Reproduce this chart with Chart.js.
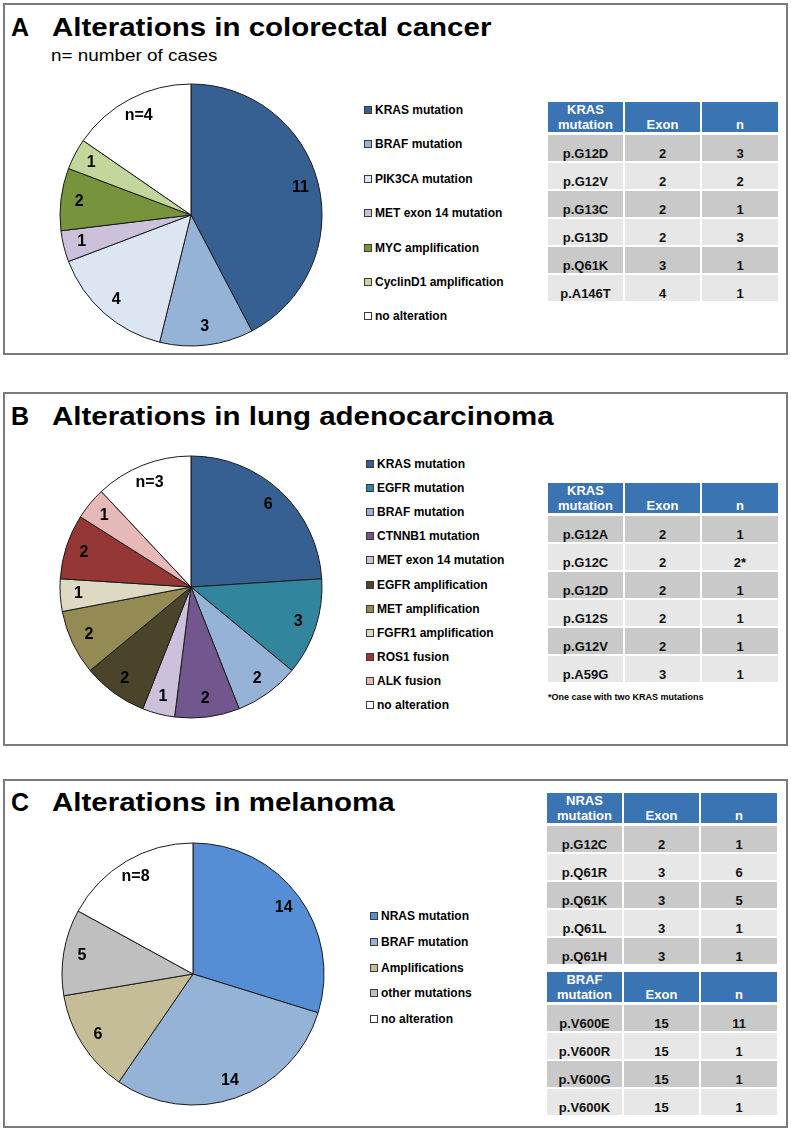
<!DOCTYPE html>
<html>
<head>
<meta charset="utf-8">
<script src="https://cdn.jsdelivr.net/npm/chart.js@4.4.0/dist/chart.umd.min.js"></script>
<style>
  body { margin: 0; background: #fff; font-family: Arial, "Liberation Sans", sans-serif; }
  #page { position: relative; width: 791px; height: 1131px; overflow: hidden; }
  .panel { position: absolute; left: 3px; width: 785px; box-sizing: border-box; border: 2px solid #7b7b7b; }
  .letter, .title { position: absolute; font-weight: bold; font-size: 25px; line-height: 25px; color: #000; white-space: nowrap; }
  .title { transform: scaleX(1.18); transform-origin: left top; }
  .subtitle { position: absolute; font-size: 16px; line-height: 16px; white-space: nowrap; transform: scaleX(1.18); transform-origin: left top; }
  canvas.pie { position: absolute; }
  .legend { position: absolute; }
  .legend .item { position: absolute; left: 0; display: flex; align-items: center; white-space: nowrap; font-weight: bold; font-size: 12px; line-height: 14px; color: #000; }
  .legend .box { width: 6px; height: 6px; border: 1px solid #3a3a3a; margin-right: 3px; }
  table.mut { position: absolute; border-collapse: separate; border-spacing: 0; table-layout: fixed; width: 230px; font-weight: bold; font-size: 13px; }
  table.mut th { background: #3b74b2; color: #fff; height: 29px; padding: 0; vertical-align: bottom; line-height: 15px; text-align: center; border-right: 2px solid #fff; border-bottom: 3px solid #fff; font-weight: bold; }
  table.mut td { height: 26px; padding: 0; vertical-align: bottom; line-height: 15px; text-align: center; color: #111; border-right: 2px solid #fff; border-bottom: 2px solid #fff; }
  table.mut th:last-child, table.mut td:last-child { border-right: none; }
  table.mut tr.dark td { background: #c9c9c9; }
  table.mut tr.light td { background: #e7e7e7; }
  .note { position: absolute; font-weight: bold; font-size: 9px; line-height: 11px; white-space: nowrap; }
</style>
</head>
<body>
<div id="page">
  <div class="panel" style="top:3px;height:352px;"></div>
  <div class="panel" style="top:392px;height:354px;"></div>
  <div class="panel" style="top:779px;height:349px;"></div>

  <div class="letter" style="left:11px;top:15px;">A</div>
  <div class="title" style="left:52px;top:15px;">Alterations in colorectal cancer</div>
  <div class="subtitle" style="left:51px;top:48px;">n= number of cases</div>

  <div class="letter" style="left:11px;top:404px;">B</div>
  <div class="title" style="left:52px;top:404px;">Alterations in lung adenocarcinoma</div>

  <div class="letter" style="left:11px;top:790px;">C</div>
  <div class="title" style="left:52px;top:790px;">Alterations in melanoma</div>

  <canvas id="pieA" class="pie" width="300" height="300" style="left:41px;top:65px;"></canvas>
  <canvas id="pieB" class="pie" width="300" height="300" style="left:41px;top:437px;"></canvas>
  <canvas id="pieC" class="pie" width="300" height="300" style="left:43px;top:824px;"></canvas>

  <div id="legendA" class="legend" style="left:364px;top:103px;"></div>
  <div id="legendB" class="legend" style="left:366px;top:457px;"></div>
  <div id="legendC" class="legend" style="left:370px;top:909px;"></div>

  <table id="tableA" class="mut" style="left:548px;top:102px;"></table>
  <table id="tableB" class="mut" style="left:548px;top:483px;"></table>
  <div class="note" style="left:548px;top:692px;">*One case with two KRAS mutations</div>
  <table id="tableC1" class="mut" style="left:547px;top:793px;"></table>
  <table id="tableC2" class="mut" style="left:547px;top:972px;"></table>
</div>

<script>
// A - colorectal cancer
const colorectalLabels = ['KRAS mutation', 'BRAF mutation', 'PIK3CA mutation', 'MET exon 14 mutation', 'MYC amplification', 'CyclinD1 amplification', 'no alteration'];
const colorectalCases = [11, 3, 4, 1, 2, 1, 4];
const colorectalColors = ['#376092', '#95b3d7', '#dce6f2', '#ccc1da', '#77933c', '#c3d69b', '#ffffff'];

const colorectalKrasVariant = ['p.G12D', 'p.G12V', 'p.G13C', 'p.G13D', 'p.Q61K', 'p.A146T'];
const colorectalKrasExon = ['2', '2', '2', '2', '3', '4'];
const colorectalKrasN = ['3', '2', '1', '3', '1', '1'];

// B - lung adenocarcinoma
const lungLabels = ['KRAS mutation', 'EGFR mutation', 'BRAF mutation', 'CTNNB1 mutation', 'MET exon 14 mutation', 'EGFR amplification', 'MET amplification', 'FGFR1 amplification', 'ROS1 fusion', 'ALK fusion', 'no alteration'];
const lungCases = [6, 3, 2, 2, 1, 2, 2, 1, 2, 1, 3];
const lungColors = ['#376092', '#31859c', '#95b3d7', '#72578f', '#ccc1da', '#4a452a', '#948a54', '#ddd9c3', '#953735', '#e6b9b8', '#ffffff'];

const lungKrasVariant = ['p.G12A', 'p.G12C', 'p.G12D', 'p.G12S', 'p.G12V', 'p.A59G'];
const lungKrasExon = ['2', '2', '2', '2', '2', '3'];
const lungKrasN = ['1', '2*', '1', '1', '1', '1'];

// C - melanoma
const melanomaLabels = ['NRAS mutation', 'BRAF mutation', 'Amplifications', 'other mutations', 'no alteration'];
const melanomaCases = [14, 14, 6, 5, 8];
const melanomaColors = ['#558ed5', '#95b3d7', '#c4bd97', '#bfbfbf', '#ffffff'];

const melanomaNrasVariant = ['p.G12C', 'p.Q61R', 'p.Q61K', 'p.Q61L', 'p.Q61H'];
const melanomaNrasExon = ['2', '3', '3', '3', '3'];
const melanomaNrasN = ['1', '6', '5', '1', '1'];

const melanomaBrafVariant = ['p.V600E', 'p.V600R', 'p.V600G', 'p.V600K'];
const melanomaBrafExon = ['15', '15', '15', '15'];
const melanomaBrafN = ['11', '1', '1', '1'];

// numbers written on the slices, last slice (no alteration) gets "n="
const sliceLabels = {
    id: 'sliceLabels',
    afterDatasetsDraw(chart) {
        const ctx = chart.ctx;
        const meta = chart.getDatasetMeta(0);
        const values = chart.data.datasets[0].data;
        ctx.save();
        ctx.font = 'bold 16px Arial, "Liberation Sans", sans-serif';
        ctx.fillStyle = '#000';
        ctx.textAlign = 'center';
        ctx.textBaseline = 'middle';
        meta.data.forEach(function(arc, i) {
            const p = arc.getProps(['x', 'y', 'startAngle', 'endAngle', 'outerRadius'], true);
            const mid = (p.startAngle + p.endAngle) / 2;
            const r = p.outerRadius * 0.86;
            const txt = i === values.length - 1 ? 'n=' + values[i] : String(values[i]);
            ctx.fillText(txt, p.x + Math.cos(mid) * r, p.y + Math.sin(mid) * r);
        });
        ctx.restore();
    }
};

function createPie(id, labels, values, colors) {
    new Chart(document.getElementById(id), {
        type: 'pie',
        data: {
            labels: labels,
            datasets: [{
                data: values,
                backgroundColor: colors,
                borderColor: '#1a1a1a',
                borderWidth: 1
            }]
        },
        options: {
            responsive: false,
            animation: false,
            radius: 131,
            layout: { padding: 0 },
            plugins: {
                legend: { display: false },
                tooltip: { enabled: false }
            }
        },
        plugins: [sliceLabels]
    });
}

function createLegend(id, labels, colors, step) {
    const el = document.getElementById(id);
    labels.forEach(function(label, i) {
        const item = document.createElement('div');
        item.className = 'item';
        item.style.top = (i * step) + 'px';
        const box = document.createElement('span');
        box.className = 'box';
        box.style.background = colors[i];
        item.appendChild(box);
        item.appendChild(document.createTextNode(label));
        el.appendChild(item);
    });
}

function createTable(id, gene, variants, exons, counts) {
    const table = document.getElementById(id);
    let html = '<colgroup><col style="width:77px"><col style="width:77px"><col style="width:76px"></colgroup>';
    html += '<tr><th>' + gene + '<br>mutation</th><th>Exon</th><th>n</th></tr>';
    variants.forEach(function(v, i) {
        html += '<tr class="' + (i % 2 === 0 ? 'dark' : 'light') + '"><td>' + v + '</td><td>' + exons[i] + '</td><td>' + counts[i] + '</td></tr>';
    });
    table.innerHTML = html;
}

createPie('pieA', colorectalLabels, colorectalCases, colorectalColors);
createPie('pieB', lungLabels, lungCases, lungColors);
createPie('pieC', melanomaLabels, melanomaCases, melanomaColors);

createLegend('legendA', colorectalLabels, colorectalColors, 34.4);
createLegend('legendB', lungLabels, lungColors, 24.1);
createLegend('legendC', melanomaLabels, melanomaColors, 25.8);

createTable('tableA', 'KRAS', colorectalKrasVariant, colorectalKrasExon, colorectalKrasN);
createTable('tableB', 'KRAS', lungKrasVariant, lungKrasExon, lungKrasN);
createTable('tableC1', 'NRAS', melanomaNrasVariant, melanomaNrasExon, melanomaNrasN);
createTable('tableC2', 'BRAF', melanomaBrafVariant, melanomaBrafExon, melanomaBrafN);
</script>
</body>
</html>
